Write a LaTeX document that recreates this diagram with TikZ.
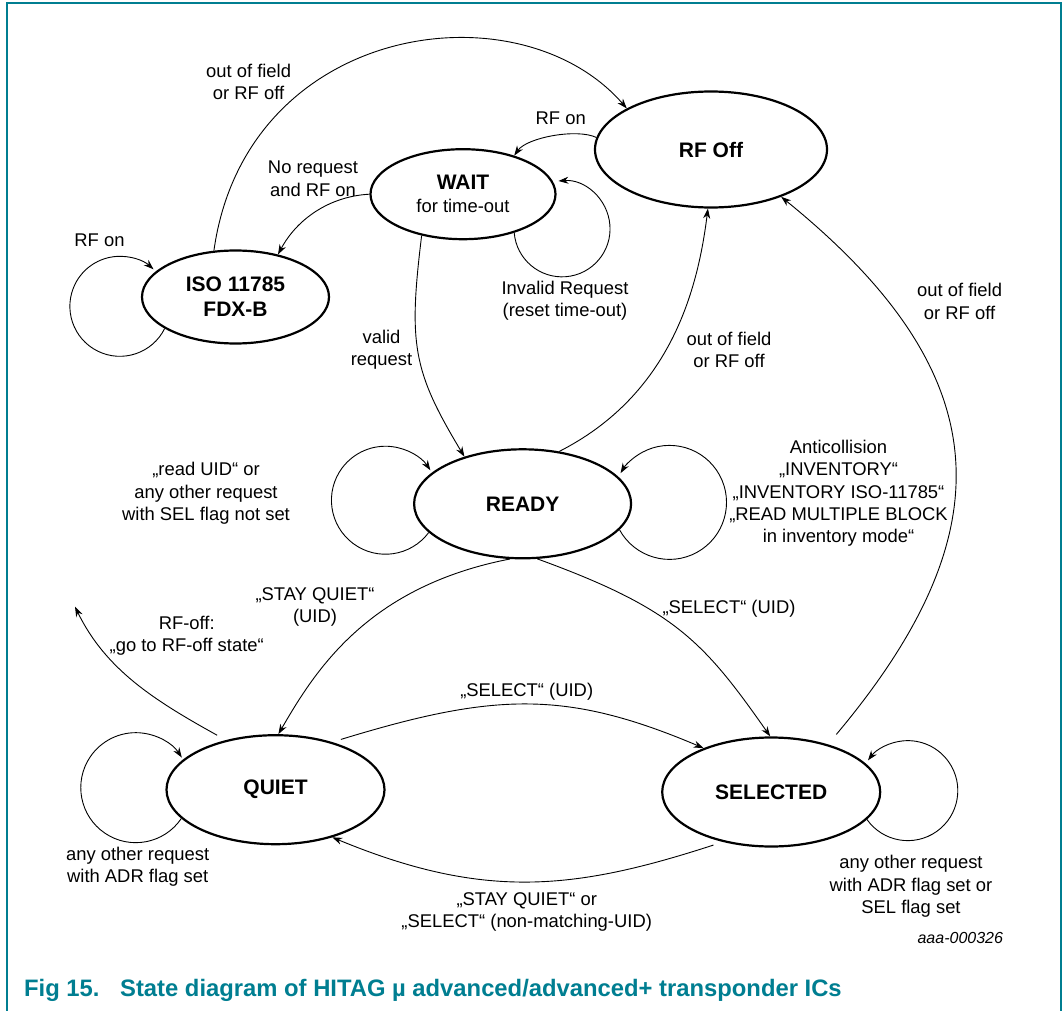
\documentclass[tikz,border=0pt]{standalone}
\usepackage{fontspec}
\setmainfont{Liberation Sans}
\usetikzlibrary{shapes.geometric,arrows.meta}

\definecolor{nxpteal}{RGB}{0,126,145}
\newcommand\lblfont{\fontsize{18.4}{22.3}\selectfont}
\newcommand\statefont{\fontsize{21}{25}\selectfont\bfseries}

\tikzset{
  statenode/.style={ellipse, draw, line width=2.2pt, inner sep=0pt,
    align=center, font=\statefont},
  trans/.style={-{Stealth[length=10pt,width=7pt]}, line width=0.9pt},
  lbl/.style={align=center, font=\lblfont, inner sep=0pt},
}

\begin{document}
\begin{tikzpicture}[x=1pt,y=1pt]
  \useasboundingbox (0,0) rectangle (1063,-1011);

  %% frame
  \draw[nxpteal, line width=1.4pt] (7,-1011) -- (7,-3) -- (1061,-3) -- (1061,-1011);

  %% states
  \node[statenode, minimum width=232pt, minimum height=116pt] (rfoff) at (711,-149.5) {RF Off};
  \node[statenode, minimum width=185pt, minimum height=90pt] (wait) at (463,-194.2)
    {WAIT\\[-2pt]{\lblfont\mdseries for time-out}};
  \node[statenode, minimum width=187pt, minimum height=93pt] (iso) at (235.5,-297)
    {ISO 11785\\FDX-B};
  \node[statenode, minimum width=217pt, minimum height=109pt] (ready) at (522.6,-503.8) {READY};
  \node[statenode, minimum width=218pt, minimum height=109pt] (quiet) at (275.5,-789.7) {QUIET};
  \node[statenode, minimum width=218pt, minimum height=109pt] (selected) at (771.2,-792) {SELECTED};
  \coordinate (rfexit) at (75,-606.7);

  %% transitions
  \draw[trans] (iso.115) .. controls +(82:230) and +(131:165) .. (rfoff.154);
  \draw[trans] (rfoff.174) .. controls +(155:22) and +(55:22) .. (wait.37);
  \draw[trans] (wait.180) .. controls +(183:40) and +(62:40) .. (iso.45);
  \draw[trans] (wait.225) .. controls +(263:110) and +(121:100) .. (ready.141);
  \draw[trans] (ready.55) .. controls +(27:120) and +(263:90) .. (rfoff.267);
  \draw[trans, shorten <=13pt] (selected.40) .. controls +(50:280) and +(321:280) .. (rfoff.326);
  \draw[trans] (ready.257) .. controls +(191:144) and +(60:75) .. (quiet.87);
  \draw[trans] (ready.285) .. controls +(340:145) and +(125:117) .. (selected.91);
  \draw[trans, shorten <=9pt] (quiet.40) .. controls +(17:169) and +(157:150) .. (selected.147);
  \draw[trans, shorten <=10pt] (selected.226) .. controls +(198:157) and +(337.5:164) .. (quiet.320);
  \draw[trans, shorten <=10pt] (quiet.135) .. controls +(151:82) and +(296:70) .. (rfexit);

  %% self loops
  \draw[trans] (iso.204) arc[start angle=-26.4, delta angle=-285.9, radius=50pt];
  \draw[trans] (wait.323) arc[start angle=184.7, delta angle=269.6, radius=48pt];
  \draw[trans] (ready.197) arc[start angle=-36.7, delta angle=-289.6, radius=54pt];
  \draw[trans] (ready.345) arc[start angle=208.7, delta angle=300.4, radius=57pt];
  \draw[trans] (quiet.197) arc[start angle=-34.1, delta angle=-292.7, radius=55pt];
  \draw[trans] (selected.344) arc[start angle=215.2, delta angle=287.6, radius=50pt];

  %% labels
  \node[lbl] (lbltop) at (248.6,-82) {out of field\\or RF off};
  \node[lbl] (lblisoloop) at (99.5,-240.7) {RF on};
  \node[lbl] (lblnoreq) at (313,-178.8) {No request\\and RF on};
  \node[lbl] (lblrfon) at (560.7,-118.3) {RF on};
  \node[lbl] (lblinvalid) at (565,-300.8) {Invalid Request\\(reset time-out)};
  \node[lbl] (lblvalid) at (381.5,-349.7) {valid\\request};
  \node[lbl] (lblmid) at (729,-350) {out of field\\or RF off};
  \node[lbl] (lblright) at (959.6,-301.3) {out of field\\or RF off};
  \node[lbl] (lblreadyl) at (206,-493.3)
    {„read UID“ or\\any other request\\with SEL flag not set};
  \node[lbl] (lblreadyr) at (838.5,-493.3)
    {Anticollision\\„INVENTORY“\\„INVENTORY ISO-11785“\\„READ MULTIPLE BLOCK\\in inventory mode“};
  \node[lbl] (lblstayq) at (315,-607) {„STAY QUIET“\\(UID)};
  \node[lbl] (lblrfoff) at (186.7,-636) {RF-off:\\„go to RF-off state“};
  \node[lbl] (lblsel) at (729,-608.3) {„SELECT“ (UID)};
  \node[lbl] (lblselq) at (526.7,-691.7) {„SELECT“ (UID)};
  \node[lbl] (lblquiet) at (137.7,-866.7) {any other request\\with ADR flag set};
  \node[lbl] (lblselected) at (911,-886.3)
    {any other request\\with ADR flag set or\\SEL flag set};
  \node[lbl] (lblback) at (526.7,-912.3) {„STAY QUIET“ or\\„SELECT“ (non-matching-UID)};
  \node[lbl, font=\fontsize{16}{19}\selectfont\itshape] (figid) at (960.3,-938.3) {aaa-000326};

  %% caption
  \node[anchor=base west, inner sep=0pt, text=nxpteal,
    font=\fontsize{23.8}{28}\selectfont\bfseries] (caption) at (24,-996.7)
    {\makebox[96pt][l]{Fig 15.}State diagram of HITAG µ advanced/advanced+ transponder ICs};

\end{tikzpicture}
\end{document}
